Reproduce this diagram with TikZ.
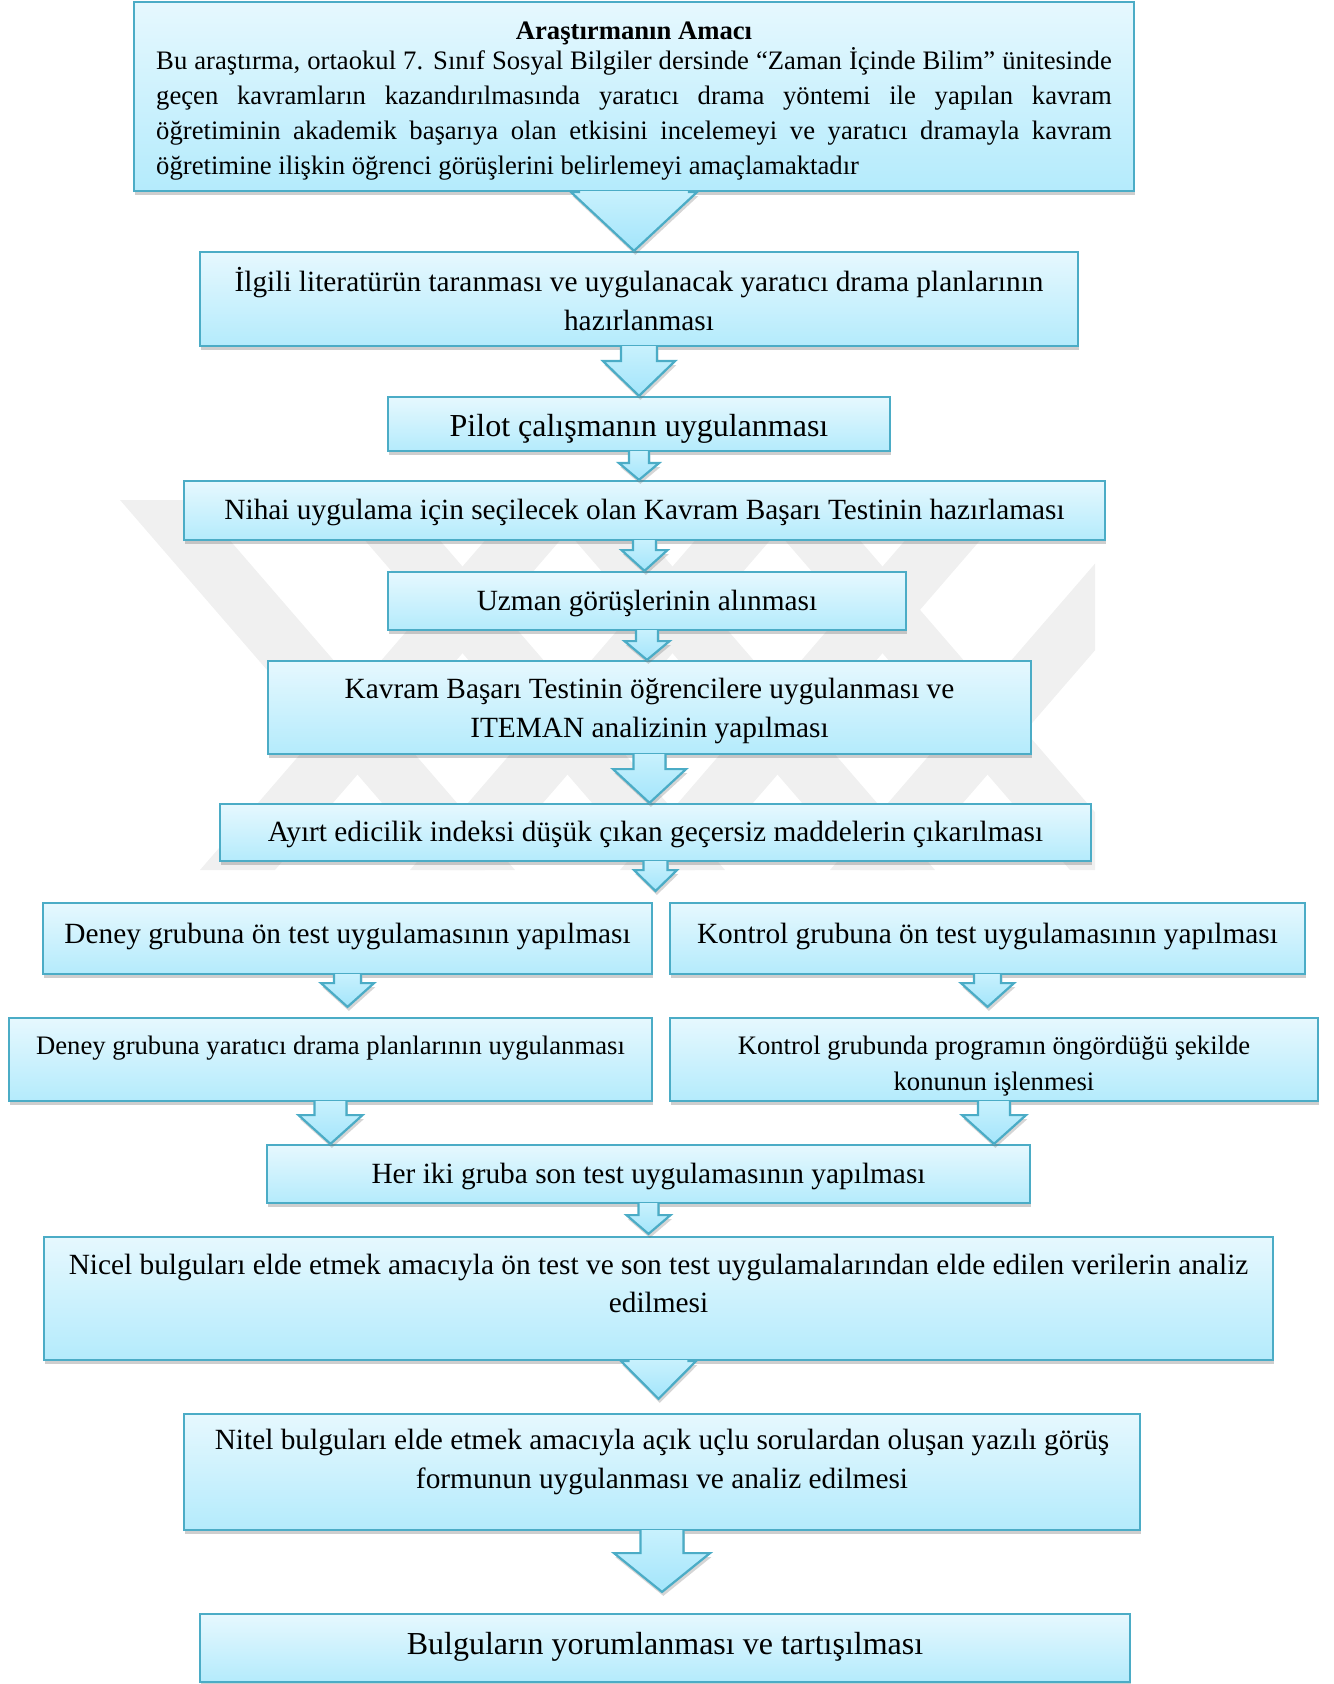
\documentclass[tikz,border=0pt]{standalone}
\usepackage{fontspec}
\setmainfont{Liberation Serif}
\usepackage{tikz}
\usetikzlibrary{calc,shadows}
\definecolor{boxline}{HTML}{4BACC6}
\definecolor{boxtop}{HTML}{E6F8FE}
\definecolor{boxbot}{HTML}{B4EBFC}
\definecolor{arrowtop}{HTML}{C8F1FD}
\definecolor{arrowbot}{HTML}{A3E5FB}
\definecolor{wmgray}{HTML}{F0F0F0}
\def\pxunit{0.45pt}
\tikzstyle{flow_box} = [rectangle, draw=boxline, line width=1pt, top color=boxtop, bottom color=boxbot, align=center, inner sep=1pt, drop shadow={shadow xshift=0.4pt, shadow yshift=-2pt, opacity=0.35, fill=black!55}]
\tikzstyle{arrow_body} = [top color=arrowtop, bottom color=arrowbot, drop shadow={shadow xshift=0.6pt, shadow yshift=-1.8pt, opacity=0.3, fill=black!55}]
\tikzstyle{arrow_edge} = [draw=boxline, line width=1pt, line join=miter]
\tikzstyle{wm_band} = [fill=wmgray]
\tikzstyle{txt_big} = [font=\fontsize{14.4}{17.3}\selectfont]
\tikzstyle{txt_mid} = [font=\fontsize{13.2}{17.4}\selectfont]
\tikzstyle{txt_small} = [font=\fontsize{12}{16.2}\selectfont]
\tikzset{box size/.style 2 args={minimum width=#1*\pxunit, minimum height=#2*\pxunit}}
% block arrow: source, target point, shaft half width, head half width, shaft length, gap
\newcommand{\flowarrow}[6]{%
  \coordinate (fa-s) at (#1.south);
  \coordinate (fa-t) at ($(#1.south |- #2)+(0,-#6)$);
  \fill[arrow_body] ($(fa-s)+(-#3,-1)$) -- ($(fa-s)+(-#3,#5)$) -- ($(fa-s)+(-#4,#5)$) -- (fa-t)
    -- ($(fa-s)+(#4,#5)$) -- ($(fa-s)+(#3,#5)$) -- ($(fa-s)+(#3,-1)$) -- cycle;
  \draw[arrow_edge] ($(fa-s)+(-#3,-1)$) -- ($(fa-s)+(-#3,#5)$) -- ($(fa-s)+(-#4,#5)$) -- (fa-t)
    -- ($(fa-s)+(#4,#5)$) -- ($(fa-s)+(#3,#5)$) -- ($(fa-s)+(#3,-1)$);
}
\begin{document}
\begin{tikzpicture}[x=0.45pt, y=-0.45pt]
\useasboundingbox (0,0) rectangle (1334,1684);
% faint watermark behind the chart
\begin{scope}
\clip (110,495) rectangle (1095,875);
\foreach \s in {0,210,420,630} {
  \fill[wm_band] (120+\s,500) -- (195+\s,500) -- (515+\s,870) -- (440+\s,870) -- cycle;
  \fill[wm_band] (200+\s,870) -- (275+\s,870) -- (595+\s,500) -- (520+\s,500) -- cycle;
}
\end{scope}

\node [flow_box, box size={1000}{189}, text width=430pt, align=justify, text height=11.8pt, font=\fontsize{12}{15.75}\selectfont] (amac) at (634,96.5)
  {{\centering\textbf{Araştırmanın Amacı}\par}\vspace{-2.2pt}
   Bu araştırma, ortaokul 7. Sınıf Sosyal Bilgiler dersinde “Zaman İçinde Bilim” ünitesinde\linebreak
   geçen kavramların kazandırılmasında yaratıcı drama yöntemi ile yapılan kavram\linebreak
   öğretiminin akademik başarıya olan etkisini incelemeyi ve yaratıcı dramayla kavram\linebreak
   öğretimine ilişkin öğrenci görüşlerini belirlemeyi amaçlamaktadır};
\node [flow_box, txt_mid, box size={878}{94}] (literatur) at (639,299)
  {İlgili literatürün taranması ve uygulanacak yaratıcı drama planlarının\\ hazırlanması};
\node [flow_box, txt_big, box size={502}{54}, text height=11.7pt, text depth=0pt] (pilot) at (639,424) {Pilot çalışmanın uygulanması};
\node [flow_box, txt_mid, box size={921}{59}, text depth=0.9pt] (nihai) at (644.5,510.5)
  {Nihai uygulama için seçilecek olan Kavram Başarı Testinin hazırlaması};
\node [flow_box, txt_mid, box size={518}{58}, text depth=0.9pt] (uzman) at (647,601) {Uzman görüşlerinin alınması};
\node [flow_box, txt_mid, box size={763}{93}, text depth=0pt] (kbt) at (649.5,707.5)
  {Kavram Başarı Testinin öğrencilere uygulanması ve\\ ITEMAN analizinin yapılması};
\node [flow_box, txt_mid, box size={871}{57}, text depth=0.9pt] (ayirt) at (655.5,832.5)
  {Ayırt edicilik indeksi düşük çıkan geçersiz maddelerin çıkarılması};
\coordinate (split) at (655.5,891);
\node [flow_box, txt_mid, box size={609}{71}, text depth=5pt] (deney_on) at (347.5,938.5)
  {Deney grubuna ön test uygulamasının yapılması};
\node [flow_box, txt_mid, box size={635}{71}, text depth=5pt] (kontrol_on) at (987.5,938.5)
  {Kontrol grubuna ön test uygulamasının yapılması};
\node [flow_box, txt_small, box size={643}{83}, text depth=13.1pt] (deney_drama) at (330.5,1059.5)
  {Deney grubuna yaratıcı drama planlarının uygulanması};
\node [flow_box, txt_small, box size={648}{83}, text height=28.3pt, text depth=0pt] (kontrol_ders) at (994,1059.5)
  {Kontrol grubunda programın öngördüğü şekilde\\ konunun işlenmesi};
\node [flow_box, txt_mid, box size={763}{58}, text depth=0.9pt] (son_test) at (648.5,1174)
  {Her iki gruba son test uygulamasının yapılması};
\node [flow_box, txt_mid, box size={1229}{123}, text depth=13.6pt] (nicel) at (658.5,1298.5)
  {Nicel bulguları elde etmek amacıyla ön test ve son test uygulamalarından elde edilen verilerin analiz\\ edilmesi};
\node [flow_box, txt_mid, box size={956}{116}, text depth=11.8pt] (nitel) at (662,1472)
  {Nitel bulguları elde etmek amacıyla açık uçlu sorulardan oluşan yazılı görüş\\ formunun uygulanması ve analiz edilmesi};
\node [flow_box, txt_big, box size={930}{68}, text depth=3.8pt] (yorum) at (665,1648)
  {Bulguların yorumlanması ve tartışılması};

\flowarrow{amac}{literatur.north}{55}{63}{0}{0}
\flowarrow{literatur}{pilot.north}{18}{36}{14}{0}
\flowarrow{pilot}{nihai.north}{10}{20}{11}{0}
\flowarrow{nihai}{uzman.north}{11.5}{23}{9}{0}
\flowarrow{uzman}{kbt.north}{11}{22.5}{10}{0}
\flowarrow{kbt}{ayirt.north}{16}{36.5}{14}{0}
\flowarrow{ayirt}{split}{12}{21.5}{8}{0}
\flowarrow{deney_on}{deney_drama.north}{13.5}{26.5}{8}{10}
\flowarrow{kontrol_on}{kontrol_ders.north}{13.5}{26.5}{8}{10}
\flowarrow{deney_drama}{son_test.north}{16}{32}{13}{0}
\flowarrow{kontrol_ders}{son_test.north}{16}{32}{13}{0}
\flowarrow{son_test}{nicel.north}{10}{22}{11}{2}
\flowarrow{nicel}{nitel.north}{30}{37.5}{0}{14}
\flowarrow{nitel}{yorum.north}{21.5}{48}{22}{21}
\end{tikzpicture}
\end{document}
